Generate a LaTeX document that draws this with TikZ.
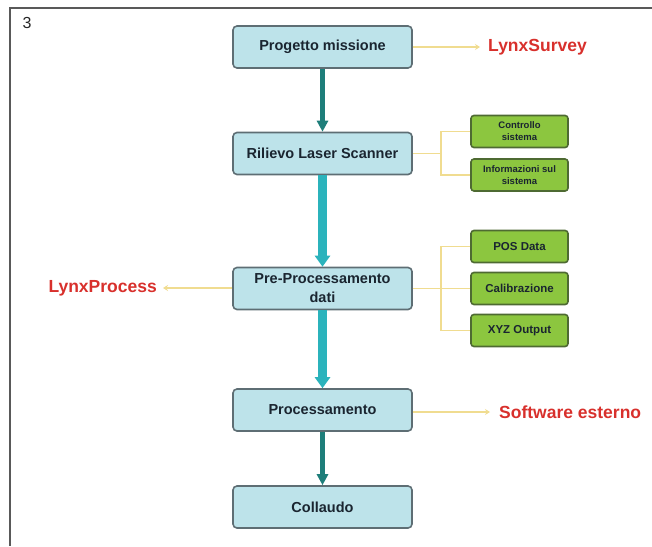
\documentclass[tikz,border=0pt]{standalone}
\usepackage{fontspec}
\setmainfont{Liberation Sans}
\usetikzlibrary{arrows.meta}
\definecolor{boxfill}{HTML}{BDE3EA}
\definecolor{boxline}{HTML}{5E6E74}
\definecolor{grfill}{HTML}{8CC63F}
\definecolor{grline}{HTML}{4E6A32}
\definecolor{conn}{HTML}{F0DC90}
\definecolor{lbl}{HTML}{D8302C}
\definecolor{tealdark}{HTML}{1E7E7A}
\definecolor{tealcyan}{HTML}{2BB3BC}
\definecolor{txt}{HTML}{1A2530}
\tikzset{
  mainbox/.style={draw=boxline, line width=1.6pt, fill=boxfill, rounded corners=4pt,
    minimum width=179pt, minimum height=42pt, inner sep=1pt, align=center,
    font=\bfseries\fontsize{14.5}{19}\selectfont, text=txt},
  subbox/.style={draw=grline, line width=1.6pt, fill=grfill, rounded corners=3pt,
    minimum width=97pt, minimum height=32pt, inner sep=1pt, align=center,
    font=\bfseries\fontsize{9.5}{12}\selectfont, text=txt},
  subboxbig/.style={subbox, font=\bfseries\fontsize{11.5}{12}\selectfont},
  redlbl/.style={font=\bfseries\fontsize{17.5}{18}\selectfont, text=lbl, inner sep=0pt},
  conline/.style={draw=conn, line width=1.8pt},
  conarrow/.style={conline, -{Stealth[length=5pt,width=6pt]}},
  darkarrow/.style={draw=tealdark, line width=5.5pt, -{Triangle[length=11pt,width=11pt]}},
  cyanarrow/.style={draw=tealcyan, line width=8.5pt, -{Triangle[length=11pt,width=15pt]}}
}
\begin{document}
\begin{tikzpicture}[x=1pt,y=-1pt]
\useasboundingbox (0,0) rectangle (652,546);
\draw[line width=2pt, draw=black!65] (652,7.5) -- (9.5,7.5) -- (9.5,546);
\node[anchor=center, font=\fontsize{16}{17}\selectfont, text=black!85] (num) at (27,23) {3};

\node[mainbox] (prog) at (322.5,47) {Progetto missione};
\node[mainbox] (ril) at (322.5,153.5) {Rilievo Laser Scanner};
\node[mainbox] (pre) at (322.5,288.5) {Pre-Processamento\\dati};
\node[mainbox] (proc) at (322.5,410) {Processamento};
\node[mainbox] (coll) at (322.5,507) {Collaudo};

\node[subbox] (ctrl) at (519.5,131.5) {Controllo\\sistema};
\node[subbox] (info) at (519.5,175) {Informazioni sul\\sistema};
\node[subboxbig] (pos) at (519.5,246.5) {POS Data};
\node[subboxbig] (cal) at (519.5,288.5) {Calibrazione};
\node[subboxbig] (xyz) at (519.5,330.5) {XYZ Output};

\node[redlbl, anchor=west] (lsur) at (488,47) {LynxSurvey};
\node[redlbl, anchor=west] (soft) at (499,412) {Software esterno};
\node[redlbl, anchor=east] (lproc) at (157,288) {LynxProcess};

% connectors to labels
\coordinate (a1) at (480,47);
\coordinate (a2) at (490,412);
\coordinate (a3) at (163,288);
\draw[conarrow] (prog.east |- a1) -- (a1);
\draw[conarrow] (proc.east |- a2) -- (a2);
\draw[conarrow] (pre.west |- a3) -- (a3);

% brackets
\coordinate (b1) at (441,153.5);
\coordinate (b2) at (441,288.5);
\draw[conline] (ril.east) -- (b1);
\draw[conline] (ctrl.west) -| (b1) |- (info.west);
\draw[conline] (pre.east) -- (b2);
\draw[conline] (pos.west) -| (b2) |- (xyz.west);
\draw[conline] (b2) -- (cal.west);

% main flow arrows
\draw[darkarrow] (prog.south) -- (ril.north);
\draw[cyanarrow] (ril.south) -- (pre.north);
\draw[cyanarrow] (pre.south) -- (proc.north);
\draw[darkarrow] (proc.south) -- (coll.north);
\end{tikzpicture}
\end{document}
